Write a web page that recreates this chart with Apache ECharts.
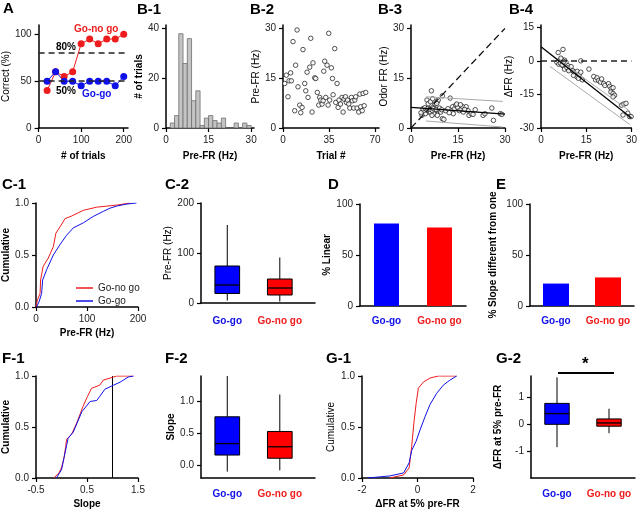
<!DOCTYPE html>
<html>
<head>
<meta charset="utf-8" />
<title>Figure</title>
<script src="https://cdn.jsdelivr.net/npm/echarts@6/dist/echarts.min.js"></script>
<style>
  html, body { margin: 0; padding: 0; background: #fff; }
  #container { width: 640px; height: 513px; }
</style>
</head>
<body>
<div id="container"></div>
<script>
// ---- data ----
var BLUE = '#1010e8', RED = '#ee1c1c';
var FONT = 'Liberation Sans, Arial, sans-serif';

// A: % correct per block of trials
var trialsA = [20, 40, 60, 80, 100, 120, 140, 160, 180, 200];
var correctNoGo = [40, 60, 55, 60, 90, 95, 90, 95, 95, 100];
var correctGoGo = [50, 60, 50, 50, 45, 50, 50, 50, 45, 55];

// B-1: histogram of pre-FR
var binLeft = [1.5, 3, 4.5, 6, 7.5, 9, 10.5, 12, 13.5, 15, 16.5, 18, 19.5, 21, 22.5, 24, 25.5, 27, 28.5];
var binCount = [2, 5, 38, 26, 36, 11, 15, 1, 4, 5, 3, 2, 4, 0, 0, 2, 0, 2, 1];

// B-2: pre-FR vs trial
var b2Trial = [1.3, 2.5, 3.8, 4.6, 5.8, 6.3, 7.6, 8.9, 9.6, 10.7, 11.4, 12.7, 13.5, 14.5, 15.2, 16.5, 17.3, 18.3, 19, 20.3,
  21.1, 22.1, 22.8, 24.1, 24.9, 26.1, 27.2, 27.9, 28.7, 29.7, 30.5, 31, 31.7, 32.5, 33.5, 34.3, 34.8, 35.5, 36.8, 37.6,
  38.1, 39.3, 40.1, 41.1, 41.9, 42.6, 43.7, 44.9, 45.7, 46.4, 47.5, 48.2, 49, 50, 50.8, 52, 52.8, 53.8, 54.6, 55.3,
  56.3, 57.6, 58.4, 59.1, 60.2, 60.9, 61.7, 62.9];
var b2PreFR = [13.4, 15.9, 9.4, 14.2, 16.6, 14.2, 26, 5.2, 18.9, 29.5, 12.4, 6.9, 4.6, 6.2, 23.6, 13.4, 11.2, 16.8, 9.2, 18.3,
  27, 4.8, 19.6, 15.1, 14.9, 10.7, 6.9, 9.2, 8.4, 7.2, 8.2, 17.1, 20.1, 9.2, 18.9, 6.9, 28.5, 8.4, 18.1, 14.9,
  10, 23.9, 7.7, 13.4, 6.2, 8.4, 7.2, 9.2, 4.8, 8.7, 9.4, 7.7, 8.4, 7.2, 6, 9.2, 8.2, 6, 8.4, 9.4,
  6, 4.8, 10.2, 6.4, 5.2, 10.4, 6.7, 10.7];

// B-3: odor FR vs pre-FR
var b3Pre = [6.5, 5.1, 7.6, 8.4, 8.7, 8.2, 10, 12.5, 7.0, 7.8, 5.7, 4.6, 3.5, 4.0, 5.1, 6.2, 7.3, 8.9, 9.5, 10, 10.5, 6.7, 8.4,
  11.1, 13.3, 13.8, 14.3, 14.9, 13.5, 15.4, 16, 16.5, 16.7, 17.6, 18.2, 18.5, 19.2, 19.8, 23, 23.6, 25.8, 26.3, 28.5, 29,
  3.2, 3.8, 4.4, 5.4, 6.0, 6.8, 7.2, 8.0, 9.1, 9.8, 11.8, 12.2, 14.6, 15.8, 17.1, 20.5, 5.5, 6.2, 6.9];
var b3Odor = [11.2, 8.4, 7.2, 8.0, 8.4, 7.4, 9.7, 9.0, 6.2, 5.2, 4.8, 4.3, 3.8, 5.2, 5.4, 4.8, 4.3, 5.4, 4.8, 2.8, 2.6, 3.8, 3.8,
  5.2, 6.4, 5.7, 6.9, 6.2, 4.3, 5.2, 5.7, 6.4, 4.8, 6.4, 5.2, 3.8, 4.3, 4.1, 3.8, 4.3, 6.0, 2.3, 4.3, 4.1,
  4.6, 5.8, 6.1, 5.9, 5.6, 5.3, 5.8, 5.6, 6.0, 5.5, 5.8, 4.6, 7.2, 7.0, 5.6, 5.5, 7.3, 7.9, 8.8];
var b3Fit = [[0, 6.2], [30, 4.2]];
var b3Upper = [[4.8, 9.4], [29.3, 8.0]];
var b3Lower = [[4.8, 2.1], [29.3, 0.3]];

// B-4: delta FR vs pre-FR
var b4Pre = [5.7, 7.3, 6.1, 5.3, 6.7, 7.8, 8.3, 5.9, 7.3, 8.9, 7.8, 9.5, 10, 10.5, 11.1, 11.5, 12, 11.8, 12.7, 13.2, 13.7, 13.2,
  15.9, 17.5, 18.1, 18.6, 19.1, 19.7, 20.1, 20.8, 21.2, 22.4, 22.8, 23.3, 23.9, 23.2, 23.9, 24.4, 23.9, 26.7, 27.5, 28.2,
  27.2, 28.8, 29.4, 29.9, 6.4, 7.0, 8.6, 9.2, 6.6, 7.6, 10.8, 12.4];
var b4Delta = [3.7, 5.1, 0, -0.7, 0.7, 0.3, -0.7, -1.5, -2.2, -2.2, -3.7, -3.7, -2.6, -4.4, -5.1, -5.6, -4.7, -7, -6.1, -5.1, -8.5, 0,
  -3.7, -7, -8.5, -7.6, -8.8, -9.5, -8.1, -10.2, -11, -10.2, -11.4, -12.4, -12, -13.9, -14.6, -15.4, -16.1, -19.8, -19.3, -19,
  -24.2, -23.4, -24.9, -24.9, -1.0, -1.8, -3.0, -4.4, 1.2, -0.3, -6.5, -7.8];
var b4Fit = [[0, 6.3], [30, -25.5]];
var b4Upper = [[3, 3.2], [29.5, -22.5]];
var b4Lower = [[3, -2.5], [29.5, -28.5]];

// C-1: cumulative pre-FR
var c1NoGo = [[0, 0], [3, 0.07], [8, 0.13], [9, 0.26], [14, 0.39], [24, 0.47], [34, 0.58], [39, 0.71], [47, 0.77], [57, 0.85],
  [70, 0.875], [93, 0.93], [119, 0.96], [158, 0.98], [185, 1.0]];
var c1GoGo = [[1, 0], [6, 0.05], [11, 0.13], [13, 0.26], [21, 0.36], [34, 0.5], [47, 0.6], [60, 0.69], [73, 0.76], [93, 0.81],
  [112, 0.87], [132, 0.92], [145, 0.95], [158, 0.97], [178, 0.99], [197, 1.0]];

// box plots: [min, q1, median, q3, max]
var groups = ['Go-go', 'Go-no go'];
var c2Box = [[5, 19, 36, 74, 156], [3, 16, 30, 48, 91]];
var pctLinear = [81, 77];
var pctSlope = [22, 28];

// F-1: cumulative slope
var f1NoGo = [[-0.15, 0], [-0.05, 0.05], [0.0, 0.1], [0.05, 0.2], [0.08, 0.3], [0.10, 0.38], [0.20, 0.43], [0.30, 0.54], [0.42, 0.70],
  [0.51, 0.80], [0.59, 0.88], [0.75, 0.91], [0.82, 0.96], [1.02, 0.99], [1.08, 1.0], [1.41, 1.0]];
var f1GoGo = [[-0.1, 0], [0.0, 0.08], [0.05, 0.2], [0.1, 0.32], [0.13, 0.39], [0.23, 0.45], [0.40, 0.65], [0.56, 0.75], [0.69, 0.76],
  [0.75, 0.80], [0.85, 0.87], [1.02, 0.91], [1.15, 0.94], [1.31, 0.99], [1.41, 1.0]];
var f2Box = [[-0.1, 0.16, 0.34, 0.76, 1.4], [-0.08, 0.11, 0.29, 0.53, 1.11]];

// G-1: cumulative delta FR at 5% pre-FR
var g1NoGo = [[-1.0, 0], [-0.5, 0.03], [-0.3, 0.1], [-0.21, 0.31], [-0.13, 0.54], [-0.05, 0.73], [0.03, 0.88], [0.21, 0.94],
  [0.45, 0.98], [0.75, 1.0], [1.41, 1.0]];
var g1GoGo = [[-1.8, 0], [-1.0, 0.02], [-0.5, 0.05], [-0.3, 0.15], [-0.21, 0.27], [-0.05, 0.36], [0.09, 0.47], [0.27, 0.60],
  [0.45, 0.72], [0.69, 0.83], [0.93, 0.91], [1.17, 0.96], [1.41, 1.0]];
var g2Box = [[-0.85, 0, 0.4, 0.78, 1.75], [-0.33, -0.07, 0.05, 0.2, 0.58]];

// ---- layout ----
var grids = [
  {left: 35, top: 25, width: 93, height: 103},    // 0 A
  {left: 166, top: 25, width: 88, height: 103},   // 1 B-1
  {left: 283, top: 25, width: 96, height: 103},   // 2 B-2
  {left: 411, top: 25, width: 94, height: 103},   // 3 B-3
  {left: 541, top: 25, width: 93, height: 103},   // 4 B-4
  {left: 36, top: 203, width: 102, height: 104},  // 5 C-1
  {left: 201, top: 203, width: 114, height: 100}, // 6 C-2
  {left: 360, top: 204, width: 106, height: 102}, // 7 D
  {left: 530, top: 204, width: 104, height: 102}, // 8 E
  {left: 36, top: 376, width: 102, height: 102},  // 9 F-1
  {left: 201, top: 376, width: 114, height: 102}, // 10 F-2
  {left: 362, top: 376, width: 111, height: 102}, // 11 G-1
  {left: 531, top: 376, width: 104, height: 102}  // 12 G-2
];

function axis(g, o) {
  var ax = {
    type: o.type || 'value', gridIndex: g, min: o.min, max: o.max,
    name: o.name || '', nameLocation: 'middle', nameGap: o.gap || 20,
    nameTextStyle: {fontFamily: FONT, fontSize: 10, fontWeight: o.bold ? 'bold' : 'normal', color: '#000'},
    axisLine: {show: true, onZero: false, lineStyle: {color: '#000', width: 1.5}},
    axisTick: {show: !!o.ticks, length: 4, lineStyle: {color: '#000', width: 1.2}},
    axisLabel: {fontFamily: FONT, fontSize: 10, color: '#222', margin: o.margin || 7},
    splitLine: {show: false}
  };
  if (o.ticks) { ax.axisTick.customValues = o.ticks; ax.axisLabel.customValues = o.ticks; }
  if (o.fmt) ax.axisLabel.formatter = o.fmt;
  if (o.data) { ax.data = o.data; ax.axisTick.show = false; ax.axisLabel.interval = 0; }
  if (o.rich) ax.axisLabel.rich = o.rich;
  return ax;
}
var dec1 = function (v) { return v.toFixed(1); };
var groupRich = {
  b: {color: BLUE, fontWeight: 'bold', fontSize: 10, fontFamily: FONT},
  r: {color: RED, fontWeight: 'bold', fontSize: 10, fontFamily: FONT}
};
var valueGroupFmt = function (v) { return v < 1 ? '{b|' + groups[0] + '}' : '{r|' + groups[1] + '}'; };
var catGroupFmt = function (v) { return v === groups[0] ? '{b|' + v + '}' : '{r|' + v + '}'; };

var xAxes = [
  axis(0, {min: 0, max: 210, ticks: [0, 100, 200], name: '# of trials', bold: true, gap: 23}),
  axis(1, {min: 0, max: 31, ticks: [0, 15, 30], name: 'Pre-FR (Hz)', bold: true, gap: 23}),
  axis(2, {min: 0, max: 73, ticks: [0, 35, 70], name: 'Trial #', bold: true, gap: 23}),
  axis(3, {min: 0, max: 30, ticks: [0, 15, 30], name: 'Pre-FR (Hz)', bold: true, gap: 23}),
  axis(4, {min: 0, max: 30, ticks: [0, 15, 30], name: 'Pre-FR (Hz)', bold: true, gap: 23}),
  axis(5, {min: 0, max: 200, ticks: [0, 100, 200], name: 'Pre-FR (Hz)', bold: true, gap: 21}),
  axis(6, {min: 0, max: 2.17, margin: 13, rich: groupRich, fmt: valueGroupFmt}),
  axis(7, {type: 'category', data: groups, margin: 10, fmt: catGroupFmt, rich: groupRich}),
  axis(8, {type: 'category', data: groups, margin: 10, fmt: catGroupFmt, rich: groupRich}),
  axis(9, {min: -0.5, max: 1.5, ticks: [-0.5, 0.5, 1.5], name: 'Slope', bold: true, gap: 21}),
  axis(10, {min: 0, max: 2.17, margin: 11, rich: groupRich, fmt: valueGroupFmt}),
  axis(11, {min: -2, max: 2, ticks: [-2, 0, 2], name: '\u0394FR at 5% pre-FR', bold: true, gap: 21}),
  axis(12, {min: 0, max: 2, margin: 11, rich: groupRich, fmt: valueGroupFmt})
];
[6, 10, 12].forEach(function (i) {
  xAxes[i].axisLabel.customValues = [0.5, 1.5];
  xAxes[i].axisTick.show = false;
});

var yAxes = [
  axis(0, {min: 0, max: 110, ticks: [0, 50, 100], name: 'Correct (%)', gap: 22}),
  axis(1, {min: 0, max: 41.5, ticks: [0, 20, 40], name: '# of trials', bold: true, gap: 17}),
  axis(2, {min: 0, max: 31, ticks: [0, 15, 30], name: 'Pre-FR (Hz)', gap: 18}),
  axis(3, {min: 0, max: 31, ticks: [0, 15, 30], name: 'Odor FR (Hz)', gap: 18}),
  axis(4, {min: -30, max: 16, ticks: [-30, -15, 0, 15], name: '\u0394FR (Hz)', gap: 27}),
  axis(5, {min: 0, max: 1, ticks: [0, 0.5, 1], fmt: dec1, name: 'Cumulative', bold: true, gap: 23}),
  axis(6, {min: 0, max: 200, ticks: [0, 100, 200], name: 'Pre-FR (Hz)', gap: 24}),
  axis(7, {min: 0, max: 100, ticks: [0, 50, 100], name: '% Linear', bold: true, gap: 23}),
  axis(8, {min: 0, max: 100, ticks: [0, 50, 100], name: '% Slope different from one', bold: true, gap: 32}),
  axis(9, {min: 0, max: 1, ticks: [0, 0.5, 1], fmt: dec1, name: 'Cumulative', bold: true, gap: 23}),
  axis(10, {min: -0.2, max: 1.4, ticks: [0, 0.5, 1], fmt: dec1, name: 'Slope', bold: true, gap: 25}),
  axis(11, {min: 0, max: 1, ticks: [0, 0.5, 1], fmt: dec1, name: 'Cumulative', gap: 26}),
  axis(12, {min: -2, max: 1.8, ticks: [-1, 0, 1], name: '\u0394FR at 5% pre-FR', bold: true, gap: 28})
];

// ---- render helpers ----
function renderBin(params, api) {
  var a = api.coord([api.value(0), api.value(2)]);
  var b = api.coord([api.value(1), 0]);
  return {type: 'rect', shape: {x: a[0], y: a[1], width: b[0] - a[0], height: b[1] - a[1]},
    style: {fill: '#c4c4c4', stroke: '#6e6e6e', lineWidth: 0.8}};
}
function renderBox(params, api) {
  var x = api.value(0);
  var lo = api.coord([x, api.value(1)]), q1 = api.coord([x, api.value(2)]), md = api.coord([x, api.value(3)]),
      q3 = api.coord([x, api.value(4)]), hi = api.coord([x, api.value(5)]);
  var w = api.size([0.47, 0])[0];
  var fill = params.dataIndex === 0 ? '#0000ff' : '#ff0000';
  var ln = {stroke: '#000', lineWidth: 1};
  return {type: 'group', children: [
    {type: 'line', shape: {x1: hi[0], y1: hi[1], x2: q3[0], y2: q3[1]}, style: ln},
    {type: 'line', shape: {x1: q1[0], y1: q1[1], x2: lo[0], y2: lo[1]}, style: ln},
    {type: 'rect', shape: {x: q3[0] - w / 2, y: q3[1], width: w, height: q1[1] - q3[1]},
      style: {fill: fill, stroke: '#000', lineWidth: 1}},
    {type: 'line', shape: {x1: md[0] - w / 2, y1: md[1], x2: md[0] + w / 2, y2: md[1]}, style: {stroke: '#000', lineWidth: 1.3}}
  ]};
}
function boxSeries(g, box) {
  return {type: 'custom', xAxisIndex: g, yAxisIndex: g, renderItem: renderBox, clip: false,
    data: box.map(function (b, i) { return [i + 0.5].concat(b); })};
}
function zip(xs, ys) { return xs.map(function (x, i) { return [x, ys[i]]; }); }
function line(g, name, data, color, extra) {
  var s = {type: 'line', name: name, xAxisIndex: g, yAxisIndex: g, data: data, symbol: 'none', showSymbol: false,
    lineStyle: {color: color, width: 1}, itemStyle: {color: color}, silent: true};
  for (var k in extra) s[k] = extra[k];
  return s;
}
function scatter(g, data) {
  return {type: 'scatter', xAxisIndex: g, yAxisIndex: g, data: data, symbol: 'circle', symbolSize: 4.5,
    itemStyle: {color: '#fff', borderColor: '#111', borderWidth: 0.9}, silent: true};
}
var dashed = {type: [6, 4], color: '#222', width: 1.5};

var series = [
  // A
  line(0, 'A no go', zip(trialsA, correctNoGo), RED, {symbol: 'circle', showSymbol: true, symbolSize: 7,
    markLine: {silent: true, symbol: 'none', label: {show: false}, lineStyle: dashed, data: [{yAxis: 80}, {yAxis: 50}]}}),
  line(0, 'A go', zip(trialsA, correctGoGo), BLUE, {symbol: 'circle', showSymbol: true, symbolSize: 7}),
  // B-1
  {type: 'custom', xAxisIndex: 1, yAxisIndex: 1, renderItem: renderBin,
    data: binLeft.map(function (l, i) { return [l, l + 1.5, binCount[i]]; })},
  // B-2
  scatter(2, zip(b2Trial, b2PreFR)),
  // B-3
  line(3, 'B3 id', [[0, 0], [30, 30]], '#111', {lineStyle: {type: [7, 4], color: '#111', width: 1.3}}),
  line(3, 'B3 up', b3Upper, '#aaa'),
  line(3, 'B3 lo', b3Lower, '#aaa'),
  scatter(3, zip(b3Pre, b3Odor)),
  line(3, 'B3 fit', b3Fit, '#000', {lineStyle: {color: '#000', width: 1.3}}),
  // B-4
  line(4, 'B4 up', b4Upper, '#aaa', {markLine: {silent: true, symbol: 'none', label: {show: false}, lineStyle: dashed, data: [{yAxis: 0}]}}),
  line(4, 'B4 lo', b4Lower, '#aaa'),
  scatter(4, zip(b4Pre, b4Delta)),
  line(4, 'B4 fit', b4Fit, '#000', {lineStyle: {color: '#000', width: 1.3}}),
  // C-1
  line(5, 'Go-no go', c1NoGo, RED),
  line(5, 'Go-go', c1GoGo, BLUE),
  // C-2
  boxSeries(6, c2Box),
  // D, E
  {type: 'bar', xAxisIndex: 7, yAxisIndex: 7, barWidth: 25, silent: true,
    data: pctLinear.map(function (v, i) { return {value: v, itemStyle: {color: i ? '#ff0000' : '#0000ff'}}; })},
  {type: 'bar', xAxisIndex: 8, yAxisIndex: 8, barWidth: 26, silent: true,
    data: pctSlope.map(function (v, i) { return {value: v, itemStyle: {color: i ? '#ff0000' : '#0000ff'}}; })},
  // F-1
  line(9, 'F1 one', [[1, 0], [1, 1]], '#000'),
  line(9, 'F1 no go', f1NoGo, RED),
  line(9, 'F1 go', f1GoGo, BLUE),
  // F-2
  boxSeries(10, f2Box),
  // G-1
  line(11, 'G1 no go', g1NoGo, RED),
  line(11, 'G1 go', g1GoGo, BLUE),
  // G-2
  boxSeries(12, g2Box)
];

function label(x, y, text, size, color) {
  return {type: 'text', left: x, top: y, silent: true,
    style: {text: text, fontFamily: FONT, fontSize: size || 15, fontWeight: 'bold', fill: color || '#000'}};
}
var graphics = [
  label(3, 1, 'A'), label(137, 2, 'B-1'), label(250, 2, 'B-2'), label(378, 2, 'B-3'), label(509, 2, 'B-4'),
  label(2, 177, 'C-1'), label(165, 177, 'C-2'), label(328, 177, 'D'), label(496, 177, 'E'),
  label(2, 351, 'F-1'), label(165, 351, 'F-2'), label(326, 351, 'G-1'), label(496, 351, 'G-2'),
  label(74, 24, 'Go-no go', 10, RED), label(56, 42, '80%', 10), label(56, 86, '50%', 10), label(82, 89, 'Go-go', 10, BLUE),
  {type: 'line', silent: true, shape: {x1: 558, y1: 373, x2: 614, y2: 373}, style: {stroke: '#000', lineWidth: 2}},
  label(582, 356, '*', 17)
];

var dom = document.getElementById('container');
var myChart = echarts.init(dom, null, {renderer: 'canvas'});
var option = {
  animation: false,
  backgroundColor: '#fff',
  textStyle: {fontFamily: FONT},
  grid: grids,
  xAxis: xAxes,
  yAxis: yAxes,
  legend: {
    data: ['Go-no go', 'Go-go'], orient: 'vertical', left: 71, top: 278, icon: 'rect', itemWidth: 17, itemHeight: 1.5,
    itemGap: 3, selectedMode: false, textStyle: {fontFamily: FONT, fontSize: 10, color: '#222'}
  },
  series: series,
  graphic: graphics
};
myChart.setOption(option);
</script>
</body>
</html>
